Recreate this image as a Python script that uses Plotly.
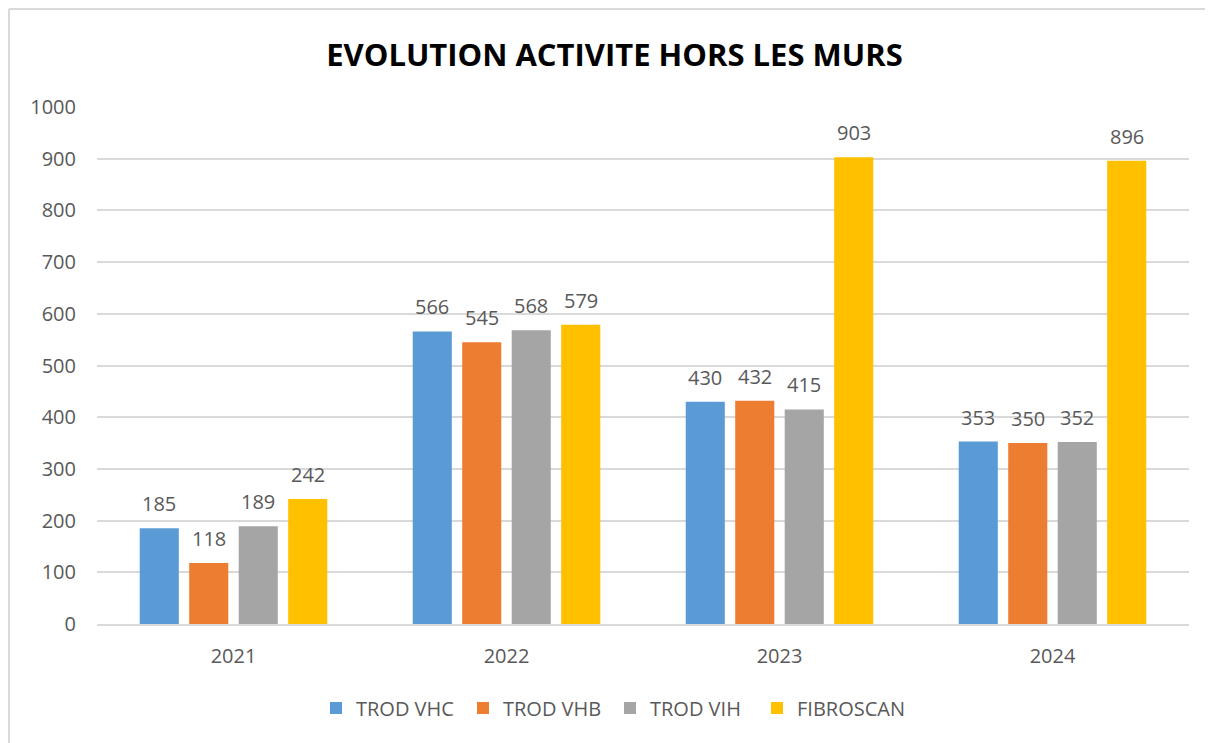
import plotly.graph_objects as go

years = ["2021", "2022", "2023", "2024"]
series_names = ["TROD VHC", "TROD VHB", "TROD VIH", "FIBROSCAN"]
trod_vhc = [185, 566, 430, 353]
trod_vhb = [118, 545, 432, 350]
trod_vih = [189, 568, 415, 352]
fibroscan = [242, 579, 903, 896]
colors = ["#5B9BD5", "#ED7D31", "#A5A5A5", "#FFC000"]

FONT = "Open Sans, Liberation Sans, sans-serif"
L, T, PW, PH = 89, 99, 1092, 517
BARGAP, GROUPGAP = 0.275, 0.21
slot = PW / len(years) * (1 - BARGAP) / len(series_names)

fig = go.Figure()
annotations = []
for i, (name, vals, col) in enumerate(zip(series_names, [trod_vhc, trod_vhb, trod_vih, fibroscan], colors)):
    fig.add_trace(go.Bar(
        x=years, y=vals, name=name, marker=dict(color=col, line=dict(width=0)),
    ))
    for j, v in enumerate(vals):
        # category axis: annotations use the category index
        annotations.append(dict(
            x=j, y=v, xref="x", yref="y", text=str(v), showarrow=False,
            xanchor="center", yanchor="bottom", xshift=(i - 1.5) * slot, yshift=9,
            font=dict(size=20, color="#595959", family=FONT),
        ))

fig.update_layout(
    width=1213, height=743,
    paper_bgcolor="white", plot_bgcolor="white",
    margin=dict(l=L, r=1213 - L - PW, t=T, b=743 - T - PH),
    barmode="group", bargap=BARGAP, bargroupgap=GROUPGAP,
    title=dict(text="<b>EVOLUTION ACTIVITE HORS LES MURS</b>", x=0.5, xanchor="center",
               y=1 - 47 / 743, yanchor="middle",
               font=dict(size=31, color="black", family=FONT)),
    xaxis=dict(type="category", range=[-0.5, len(years) - 0.5], showline=True, linecolor="#D9D9D9",
               linewidth=2, ticks="",
               tickfont=dict(size=20, color="#595959", family=FONT), ticklabelstandoff=13),
    yaxis=dict(range=[0, 1000], dtick=100, showgrid=True, gridcolor="#D9D9D9", gridwidth=2,
               zeroline=False, tickfont=dict(size=20, color="#595959", family=FONT),
               ticklabelstandoff=20),
    legend=dict(orientation="h", x=0.5 - 33 / PW, xanchor="center", y=(T + PH - 700) / PH, yanchor="middle",
                font=dict(size=20, color="#595959", family=FONT), itemwidth=30,
                entrywidth=102, entrywidthmode="pixels", tracegroupgap=0),
    annotations=annotations,
    shapes=[
        dict(type="line", xref="paper", yref="paper", x0=(1 - L) / PW, x1=1.2,
             y0=1 + (T - 1) / PH, y1=1 + (T - 1) / PH, line=dict(color="#D9D9D9", width=2)),
        dict(type="line", xref="paper", yref="paper", x0=(1 - L) / PW, x1=(1 - L) / PW,
             y0=1 + (T - 1) / PH, y1=-0.4, line=dict(color="#D9D9D9", width=2)),
    ],
)
fig.write_html("out.html")
